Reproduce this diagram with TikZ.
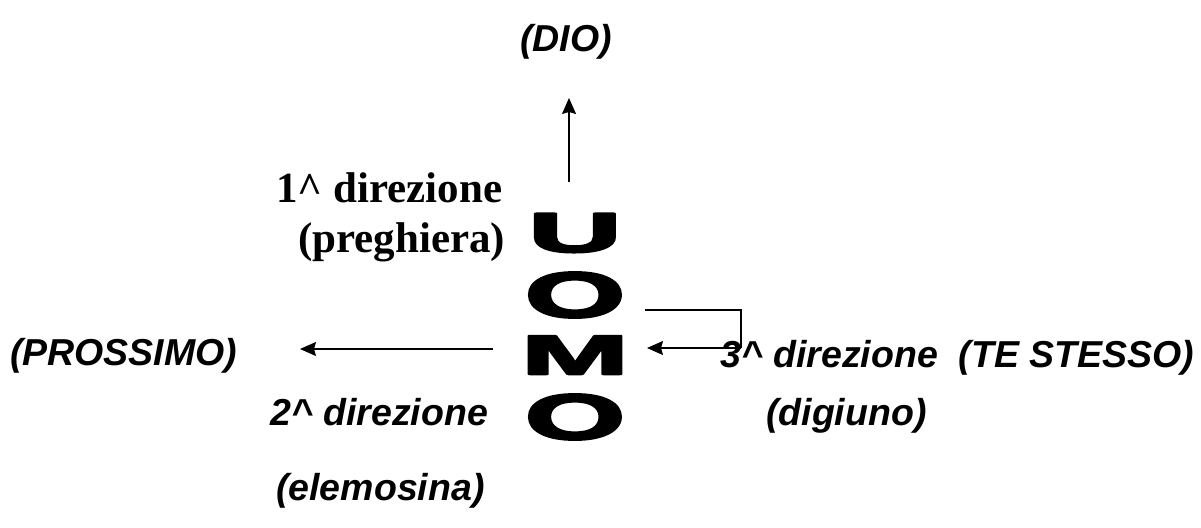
\documentclass[tikz,border=0pt]{standalone}
\usepackage{fontspec}
\setmainfont{Liberation Serif}
\newfontfamily\labfont{Liberation Sans}
\newfontfamily\heavyfont[FakeBold=3.5]{Liberation Sans Bold}
\usetikzlibrary{arrows.meta}
\tikzset{
  sanslab/.style={inner sep=0pt, font=\labfont\fontsize{37.5}{44}\selectfont\bfseries\itshape},
  seriflab/.style={inner sep=0pt, font=\fontsize{43}{48}\selectfont\bfseries},
  letter/.style={inner sep=0pt, anchor=center, line join=round, xscale=2.3, font=\heavyfont\fontsize{56}{60}\selectfont},
  roundletter/.style={letter, yscale=1.15},
  conn/.style={line width=1.4pt, -{Stealth[length=16pt,width=14pt,inset=2pt]}},
  plain/.style={line width=1.4pt}
}
\begin{document}
\begin{tikzpicture}[x=1pt,y=-1pt]
\useasboundingbox (0,0) rectangle (1201,527);
% big word
\node[letter] (u1) at (575,233) {U};
\node[roundletter] (o1) at (575,295) {O};
\node[letter] (m1) at (575,355) {M};
\node[roundletter] (o2) at (575,417) {O};
% labels
\node[sanslab, anchor=base] (dio) at (566,52) {(DIO)};
\node[seriflab, anchor=base west] (dir1) at (276,202) {1\textasciicircum{} direzione};
\node[seriflab, anchor=base west] (preg) at (298,252) {(preghiera)};
\node[sanslab, anchor=base west] (pross) at (10,365) {(PROSSIMO)};
\node[sanslab, anchor=base west] (dir3) at (720,367) {3\textasciicircum{} direzione\ \ (TE STESSO)};
\node[sanslab, anchor=base west] (dir2) at (270,425) {2\textasciicircum{} direzione};
\node[sanslab, anchor=base west] (dig) at (766,425) {(digiuno)};
\node[sanslab, anchor=base west] (elem) at (276,500) {(elemosina)};
% connector end points
\coordinate (upS) at (569,182);
\coordinate (upE) at (569,98);
\coordinate (lfS) at (493,349);
\coordinate (lfE) at (300,349);
\coordinate (brS) at (645,310);
\coordinate (brC) at (741,348);
\coordinate (brE) at (647,348);
% connectors
\draw[conn] (upS) -- (upE);
\draw[conn] (lfS) -- (lfE);
\draw[plain] (brS) -| (brC);
\draw[conn] (brC) -- (brE);
\end{tikzpicture}
\end{document}
